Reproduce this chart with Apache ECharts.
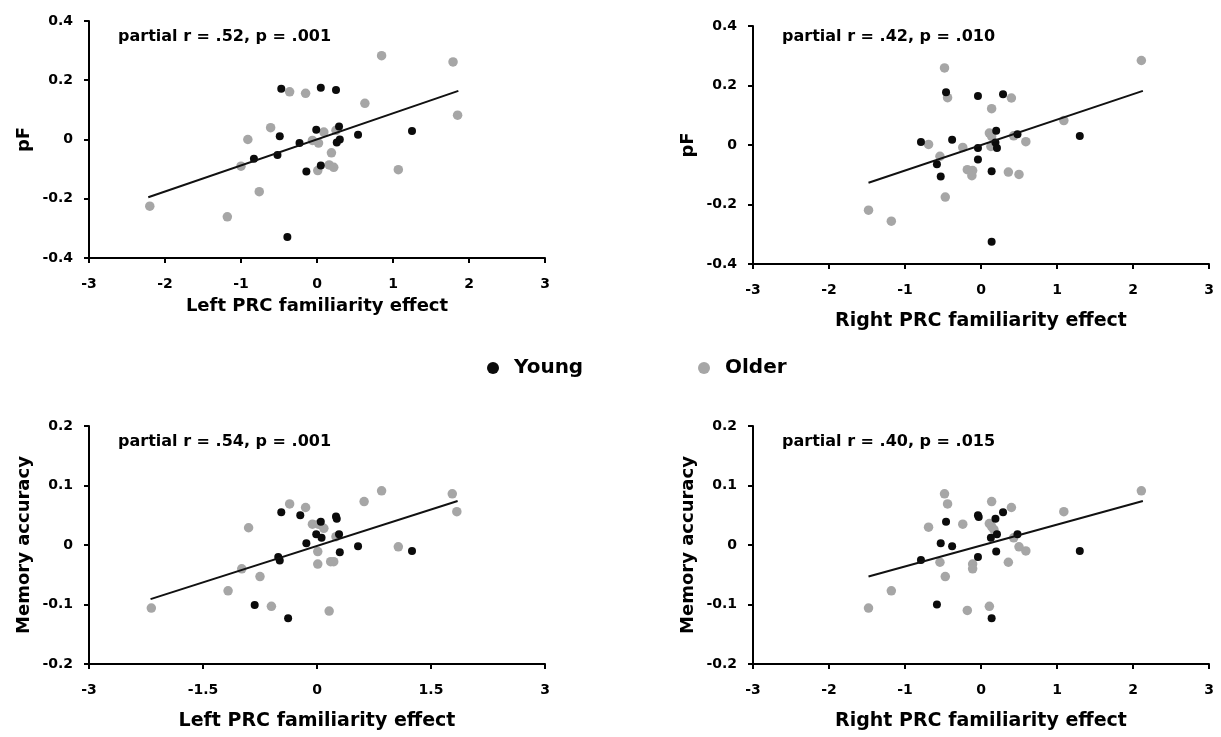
<!DOCTYPE html>
<html>
<head>
<meta charset="utf-8">
<script src="https://cdn.jsdelivr.net/npm/echarts@6/dist/echarts.min.js"></script>
<style>html,body{margin:0;padding:0;background:#fff;}#c{width:1221px;height:737px;}</style>
</head>
<body>
<div id="c"></div>
<script>
// ---- Data ----
const legendNames = ['Young', 'Older'];
const annotations = ['partial r = .52, p = .001', 'partial r = .42, p = .010', 'partial r = .54, p = .001', 'partial r = .40, p = .015'];
const xAxisNames = ['Left PRC familiarity effect', 'Right PRC familiarity effect', 'Left PRC familiarity effect', 'Right PRC familiarity effect'];
const yAxisNames = ['pF', 'pF', 'Memory accuracy', 'Memory accuracy'];

const young1 = [[-0.47,0.171],[-0.49,0.011],[-0.52,-0.052],[-0.83,-0.065],[-0.39,-0.329],[0.05,0.175],[0.25,0.167],[0.29,0.044],[-0.01,0.033],[1.25,0.029],[0.54,0.016],[-0.23,-0.012],[0.30,0.0],[0.26,-0.010],[0.05,-0.088],[-0.14,-0.108]];
const older1 = [[-2.2,-0.225],[-0.36,0.161],[-0.61,0.04],[-0.91,0.0],[-1.0,-0.09],[-0.76,-0.176],[-1.18,-0.261],[0.85,0.283],[1.79,0.262],[-0.15,0.156],[0.63,0.122],[1.85,0.082],[0.09,0.025],[0.25,0.031],[-0.06,-0.003],[0.02,-0.012],[0.19,-0.045],[0.16,-0.086],[0.22,-0.094],[0.01,-0.105],[1.07,-0.102]];
const fit1 = [[-2.22,-0.195],[1.86,0.164]];

const young2 = [[-0.46,0.177],[-0.79,0.010],[-0.38,0.018],[-0.58,-0.065],[-0.53,-0.106],[-0.04,0.165],[0.29,0.171],[0.20,0.048],[0.48,0.036],[1.30,0.030],[0.19,0.008],[0.21,-0.010],[-0.04,-0.010],[-0.04,-0.049],[0.14,-0.088],[0.14,-0.325]];
const older2 = [[-1.48,-0.219],[-1.18,-0.256],[-0.48,0.259],[-0.44,0.159],[-0.69,0.002],[-0.54,-0.038],[-0.47,-0.175],[2.11,0.284],[0.40,0.158],[0.14,0.122],[1.09,0.082],[0.11,0.040],[0.14,0.029],[0.43,0.031],[0.59,0.011],[0.13,-0.005],[-0.24,-0.008],[-0.18,-0.083],[-0.11,-0.086],[-0.12,-0.103],[0.36,-0.091],[0.50,-0.099]];
const fit2 = [[-1.48,-0.127],[2.13,0.182]];

const young3 = [[-0.47,0.055],[-0.51,-0.020],[-0.49,-0.026],[-0.82,-0.101],[-0.38,-0.123],[-0.22,0.050],[0.25,0.048],[0.26,0.044],[0.05,0.039],[-0.01,0.018],[0.06,0.012],[0.29,0.018],[-0.14,0.003],[0.54,-0.002],[1.25,-0.010],[0.30,-0.012]];
const older3 = [[-2.18,-0.106],[-0.36,0.069],[-0.90,0.029],[-0.99,-0.040],[-0.75,-0.053],[-1.17,-0.077],[-0.60,-0.103],[0.85,0.091],[1.78,0.086],[1.84,0.056],[0.62,0.073],[-0.15,0.063],[-0.06,0.035],[0.02,0.035],[0.09,0.028],[0.25,0.014],[1.07,-0.003],[0.01,-0.011],[0.01,-0.032],[0.18,-0.028],[0.22,-0.028],[0.16,-0.111]];
const fit3 = [[-2.19,-0.091],[1.85,0.074]];

const young4 = [[-0.46,0.039],[-0.53,0.003],[-0.38,-0.002],[-0.79,-0.025],[-0.58,-0.100],[0.29,0.055],[-0.04,0.050],[-0.03,0.047],[0.19,0.044],[0.21,0.018],[0.13,0.012],[0.48,0.018],[1.30,-0.010],[0.20,-0.011],[-0.04,-0.020],[0.14,-0.123]];
const older4 = [[-1.48,-0.106],[-1.18,-0.077],[-0.48,0.086],[-0.44,0.069],[-0.69,0.030],[-0.54,-0.029],[-0.47,-0.053],[2.11,0.091],[0.14,0.073],[0.40,0.063],[1.09,0.056],[-0.24,0.035],[0.11,0.036],[0.14,0.031],[0.17,0.026],[0.43,0.012],[0.50,-0.003],[0.59,-0.010],[0.36,-0.029],[-0.11,-0.032],[-0.11,-0.040],[-0.18,-0.110],[0.11,-0.103]];
const fit4 = [[-1.48,-0.053],[2.13,0.074]];

const xRanges = [[-3,3,1],[-3,3,1],[-3,3,1.5],[-3,3,1]];
const yRanges = [[-0.4,0.4,0.2],[-0.4,0.4,0.2],[-0.2,0.2,0.1],[-0.2,0.2,0.1]];

// ---- Build chart ----
const FONT = 'DejaVu Sans';
const BLACK = '#0b0b0b', GREY = '#a6a6a6';
const grids = [
  {left: 89, top: 21, width: 456, height: 237},
  {left: 753, top: 26, width: 456, height: 238},
  {left: 89, top: 426, width: 456, height: 238},
  {left: 753, top: 426, width: 456, height: 238}
];
const titlePos = [[118,29],[782,29],[118,434],[782,434]];
const xNameGap = [39, 48, 48, 48];
const xNameSize = [18, 19, 19, 19];
const xLabelMargin = [19, 19, 19, 19];
const youngs = [young1, young2, young3, young4];
const olders = [older1, older2, older3, older4];
const fits = [fit1, fit2, fit3, fit4];

const axisCommon = {
  axisLine: {show: true, onZero: false, lineStyle: {color: '#000', width: 2}},
  axisTick: {show: true, length: 5, lineStyle: {color: '#000', width: 2}},
  splitLine: {show: false}
};

const xAxis = [], yAxis = [], series = [], title = [];
for (let i = 0; i < 4; i++) {
  xAxis.push(Object.assign({}, axisCommon, {
    gridIndex: i, type: 'value', min: xRanges[i][0], max: xRanges[i][1], interval: xRanges[i][2],
    name: xAxisNames[i], nameLocation: 'middle', nameGap: xNameGap[i],
    nameTextStyle: {fontFamily: FONT, fontWeight: 'bold', fontSize: xNameSize[i], color: '#000'},
    axisLabel: {fontFamily: FONT, fontWeight: 'bold', fontSize: 14, color: '#000', margin: xLabelMargin[i]}
  }));
  yAxis.push(Object.assign({}, axisCommon, {
    gridIndex: i, type: 'value', min: yRanges[i][0], max: yRanges[i][1], interval: yRanges[i][2],
    name: yAxisNames[i], nameLocation: 'middle', nameGap: 56,
    nameTextStyle: {fontFamily: FONT, fontWeight: 'bold', fontSize: 18, color: '#000'},
    axisLabel: {fontFamily: FONT, fontWeight: 'bold', fontSize: 14, color: '#000', margin: 16}
  }));
  title.push({
    text: annotations[i], left: titlePos[i][0], top: titlePos[i][1], padding: 0,
    textStyle: {fontFamily: FONT, fontWeight: 'bold', fontSize: 16, color: '#000'}
  });
  series.push({
    name: legendNames[1], type: 'scatter', xAxisIndex: i, yAxisIndex: i,
    data: olders[i], symbolSize: 9.5, itemStyle: {color: GREY, opacity: 1}, z: 2
  });
  series.push({
    name: legendNames[0], type: 'scatter', xAxisIndex: i, yAxisIndex: i,
    data: youngs[i], symbolSize: 8, itemStyle: {color: BLACK, opacity: 1}, z: 3
  });
  series.push({
    name: 'fit', type: 'line', xAxisIndex: i, yAxisIndex: i, data: fits[i],
    symbol: 'none', lineStyle: {color: '#111', width: 2}, z: 4, silent: true
  });
}

const legendText = {fontFamily: FONT, fontWeight: 'bold', fontSize: 20, color: '#000', padding: [0,0,0,10]};
const option = {
  animation: false,
  backgroundColor: '#fff',
  title: title,
  grid: grids,
  xAxis: xAxis,
  yAxis: yAxis,
  legend: [
    {data: [{name: legendNames[0], icon: 'circle'}], left: 482, top: 353, itemWidth: 12, itemHeight: 12, textStyle: legendText, selectedMode: false},
    {data: [{name: legendNames[1], icon: 'circle'}], left: 693, top: 353, itemWidth: 12, itemHeight: 12, textStyle: legendText, selectedMode: false}
  ],
  series: series
};
const chart = echarts.init(document.getElementById('c'), null, {renderer: 'canvas'});
chart.setOption(option);
</script>
</body>
</html>
